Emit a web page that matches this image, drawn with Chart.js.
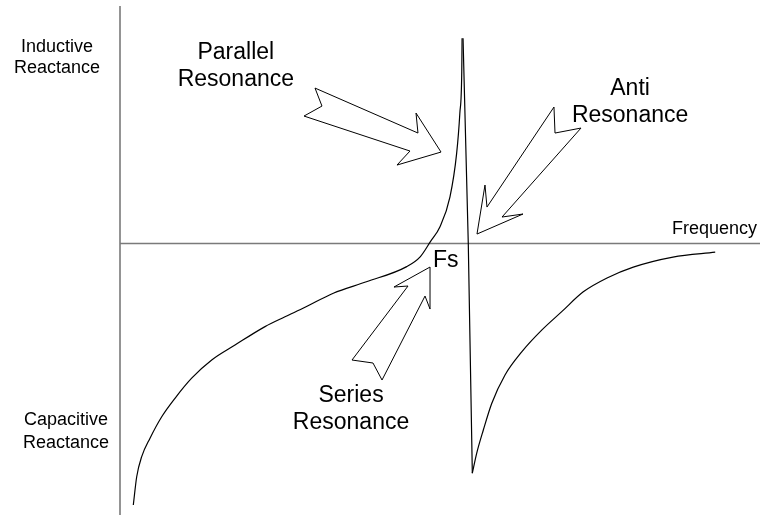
<!DOCTYPE html>
<html>
<head>
<meta charset="utf-8">
<script src="https://cdn.jsdelivr.net/npm/chart.js@4/dist/chart.umd.min.js"></script>
<style>
  body { margin: 0; background: #fff; }
</style>
</head>
<body>
<canvas id="reactanceChart" width="760" height="515"></canvas>
<script>
// frequency (arbitrary units) and reactance (+ inductive, - capacitive)
var belowFsFreq = [2.08, 2.61, 3.39, 4.69, 6.52, 8.59, 11.2, 14.33, 17.97, 22.66, 25.78, 28.91, 33.33, 38.5, 44.8, 46.9, 48.5, 50.0, 51.56, 52.6, 53.1, 53.4, 53.45];
var belowFsReact = [-96.3, -85.9, -78.5, -71.7, -63.8, -57.0, -49.6, -42.9, -37.4, -30.6, -27.0, -23.5, -18.3, -14.1, -8.5, -4.9, 0.7, 6.2, 17.2, 33.2, 48.0, 63.3, 75.6];

var spikeFreq = [53.6, 54.42, 55.05];
var spikeReact = [75.6, -0.2, -84.6];

var aboveFaFreq = [55.05, 55.73, 56.77, 58.08, 60.16, 62.77, 65.89, 69.02, 72.39, 76.1, 80.2, 86.4, 93.0];
var aboveFaReact = [-84.6, -77.3, -68.7, -58.9, -48.4, -39.9, -31.9, -25.1, -17.8, -12.7, -8.7, -5.0, -3.2];

// hollow arrow outlines, in the same frequency / reactance units
var parallelArrow = [[30.47, 57.27], [46.56, 40.7], [46.25, 48.07], [50.16, 33.7], [43.28, 28.91], [45.31, 34.07], [28.75, 46.96], [31.56, 50.64]];
var antiArrow = [[67.81, 50.28], [57.34, 13.44], [57.03, 21.55], [55.78, 3.5], [62.97, 10.87], [59.69, 9.76], [72.03, 42.54], [67.97, 40.7]];
var seriesArrow = [[48.44, -8.66], [48.44, -24.13], [47.66, -19.34], [40.94, -50.28], [39.53, -44.01], [36.25, -42.91], [45.0, -15.65], [42.81, -16.02]];

var notes = [
    { text: ['Parallel', 'Resonance'], x: 18.1, y: 67.96, align: 'center' },
    { text: ['Anti', 'Resonance'], x: 79.7, y: 54.7, align: 'center' },
    { text: ['Series', 'Resonance'], x: 36.1, y: -58.4, align: 'center' },
    { text: ['Fs'], x: 48.9, y: -8.66, align: 'left' }
];

function toPoints(xs, ys) {
    return xs.map(function (x, i) { return { x: x, y: ys[i] }; });
}

var sketchPlugin = {
    id: 'sketch',
    beforeDatasetsDraw: function (chart) {
        var ctx = chart.ctx;
        var xs = chart.scales.x, ys = chart.scales.y;
        var area = chart.chartArea;
        var x0 = xs.getPixelForValue(0), y0 = ys.getPixelForValue(0);
        ctx.save();
        ctx.strokeStyle = '#7a7a7a';
        ctx.lineWidth = 1.6;
        ctx.beginPath();
        ctx.moveTo(area.left, y0);
        ctx.lineTo(area.right, y0);
        ctx.moveTo(x0, area.top);
        ctx.lineTo(x0, area.bottom);
        ctx.stroke();

        ctx.fillStyle = '#000';
        ctx.font = '18px "Liberation Sans", Arial, sans-serif';
        ctx.textAlign = 'center';
        ctx.textBaseline = 'alphabetic';
        ctx.fillText('Inductive', 57, 52);
        ctx.fillText('Reactance', 57, 73);
        ctx.fillText('Capacitive', 66, 425);
        ctx.fillText('Reactance', 66, 448);
        ctx.textAlign = 'right';
        ctx.fillText('Frequency', 757, 234);
        ctx.restore();
    },
    afterDatasetsDraw: function (chart) {
        var ctx = chart.ctx;
        var xs = chart.scales.x, ys = chart.scales.y;
        ctx.save();
        [parallelArrow, antiArrow, seriesArrow].forEach(function (arrow) {
            ctx.beginPath();
            arrow.forEach(function (p, i) {
                var px = xs.getPixelForValue(p[0]), py = ys.getPixelForValue(p[1]);
                if (i === 0) ctx.moveTo(px, py); else ctx.lineTo(px, py);
            });
            ctx.closePath();
            ctx.fillStyle = '#fff';
            ctx.fill();
            ctx.strokeStyle = '#000';
            ctx.lineWidth = 1;
            ctx.stroke();
        });

        ctx.fillStyle = '#000';
        ctx.font = '23px "Liberation Sans", Arial, sans-serif';
        ctx.textBaseline = 'alphabetic';
        notes.forEach(function (n) {
            ctx.textAlign = n.align;
            var px = xs.getPixelForValue(n.x), py = ys.getPixelForValue(n.y);
            n.text.forEach(function (line, i) {
                ctx.fillText(line, px, py + i * 27);
            });
        });
        ctx.restore();
    }
};

var lineStyle = {
    showLine: true,
    borderColor: '#000',
    borderWidth: 1.2,
    pointRadius: 0,
    fill: false
};

new Chart(document.getElementById('reactanceChart'), {
    type: 'scatter',
    data: {
        datasets: [
            Object.assign({ label: 'below Fs', data: toPoints(belowFsFreq, belowFsReact), cubicInterpolationMode: 'monotone' }, lineStyle),
            Object.assign({ label: 'spike', data: toPoints(spikeFreq, spikeReact), tension: 0 }, lineStyle),
            Object.assign({ label: 'above Fa', data: toPoints(aboveFaFreq, aboveFaReact), cubicInterpolationMode: 'monotone' }, lineStyle)
        ]
    },
    options: {
        responsive: false,
        animation: false,
        layout: { padding: { left: 120, right: 0, top: 6, bottom: 0 } },
        plugins: {
            legend: { display: false },
            tooltip: { enabled: false }
        },
        scales: {
            x: { type: 'linear', min: 0, max: 100, display: false },
            y: { type: 'linear', min: -100, max: 87.5, display: false }
        }
    },
    plugins: [sketchPlugin]
});
</script>
</body>
</html>
